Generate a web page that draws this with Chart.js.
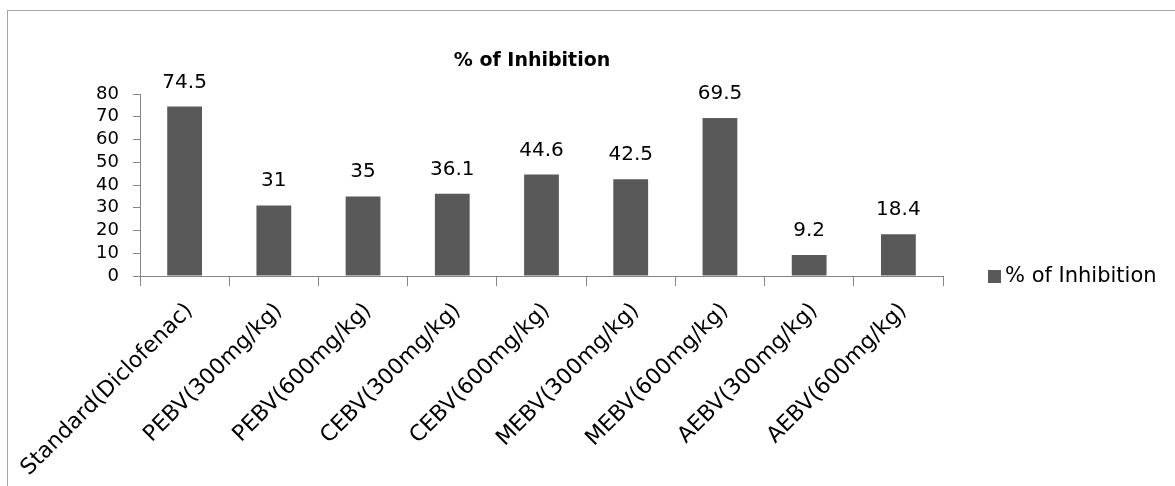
<!DOCTYPE html>
<html>
<head>
<meta charset="utf-8">
<script src="https://cdn.jsdelivr.net/npm/chart.js@4.4.0/dist/chart.umd.min.js"></script>
<style>
  html, body { margin: 0; padding: 0; background: #fff; overflow: hidden; }
  #wrap { position: absolute; left: 0; top: 0; width: 1175px; height: 486px; }
  #frame { position: absolute; left: 7px; top: 10px; width: 1300px; height: 600px; border: 1px solid #a6a6a6; box-sizing: border-box; }
  canvas { position: absolute; left: 0; top: 0; }
</style>
</head>
<body>
<div id="wrap">
  <div id="frame"></div>
  <canvas id="c" width="1175" height="486"></canvas>
</div>
<script>
const categories = [
  "Standard(Diclofenac)", "PEBV(300mg/kg)", "PEBV(600mg/kg)", "CEBV(300mg/kg)",
  "CEBV(600mg/kg)", "MEBV(300mg/kg)", "MEBV(600mg/kg)", "AEBV(300mg/kg)", "AEBV(600mg/kg)"
];
const inhibition = [74.5, 31, 35, 36.1, 44.6, 42.5, 69.5, 9.2, 18.4];
const seriesName = "% of Inhibition";
const chartTitle = "% of Inhibition";
const yTicks = [0, 10, 20, 30, 40, 50, 60, 70, 80];

const FONT = "'DejaVu Sans', Verdana, sans-serif";
const BAR = "#595959";
const AXIS = "#868686";

const valueLabels = {
  id: 'valueLabels',
  afterDatasetsDraw(chart) {
    const ctx = chart.ctx;
    const meta = chart.getDatasetMeta(0);
    ctx.save();
    ctx.font = "20px " + FONT;
    ctx.fillStyle = "#000";
    ctx.textAlign = "center";
    ctx.textBaseline = "alphabetic";
    meta.data.forEach((bar, i) => {
      ctx.fillText(String(chart.data.datasets[0].data[i]), bar.x, bar.y - 19);
    });
    ctx.restore();
  }
};

const titleAndLegend = {
  id: 'titleAndLegend',
  afterDraw(chart) {
    const ctx = chart.ctx;
    ctx.save();
    ctx.font = "bold 19px " + FONT;
    ctx.fillStyle = "#000";
    ctx.textAlign = "center";
    ctx.textBaseline = "alphabetic";
    ctx.fillText(chartTitle, 532, 66);
    // legend
    const ds = chart.data.datasets[0];
    const ly = chart.chartArea.bottom + 1;
    ctx.fillStyle = ds.backgroundColor;
    ctx.fillRect(988, ly - 7, 13, 13);
    ctx.fillStyle = "#000";
    ctx.font = "21px " + FONT;
    ctx.textAlign = "left";
    ctx.textBaseline = "middle";
    ctx.fillText(ds.label, 1005, ly);
    ctx.restore();
  }
};

new Chart(document.getElementById('c'), {
  type: 'bar',
  data: {
    labels: categories,
    datasets: [{
      label: seriesName,
      data: inhibition,
      backgroundColor: BAR,
      borderWidth: 0,
      categoryPercentage: 1.0,
      barPercentage: 0.39
    }]
  },
  options: {
    responsive: false,
    animation: false,
    devicePixelRatio: 1,
    layout: { padding: { left: 0, right: 232, top: 94, bottom: 0 } },
    plugins: {
      legend: { display: false },
      title: { display: false },
      tooltip: { enabled: false }
    },
    scales: {
      x: {
        offset: true,
        grid: { display: true, drawOnChartArea: false, drawTicks: true, tickLength: 10, color: AXIS, offset: true },
        border: { display: true, color: AXIS, width: 1 },
        ticks: {
          autoSkip: false, minRotation: 45, maxRotation: 45,
          color: "#000", font: { family: FONT, size: 22 }, padding: 12, labelOffset: 5
        },
        afterFit(s) { s.height = 210; s.paddingLeft = 0; s.paddingRight = 0; }
      },
      y: {
        min: 0, max: 80,
        afterBuildTicks(s) { s.ticks = yTicks.map(v => ({ value: v })); },
        grid: { display: true, drawOnChartArea: false, drawTicks: true, tickLength: 7, color: AXIS },
        border: { display: true, color: AXIS, width: 1 },
        ticks: { autoSkip: false, stepSize: 10, color: "#000", font: { family: FONT, size: 18 }, padding: 14 },
        afterFit(s) { s.width = 140; }
      }
    }
  },
  plugins: [valueLabels, titleAndLegend]
});
</script>
</body>
</html>
